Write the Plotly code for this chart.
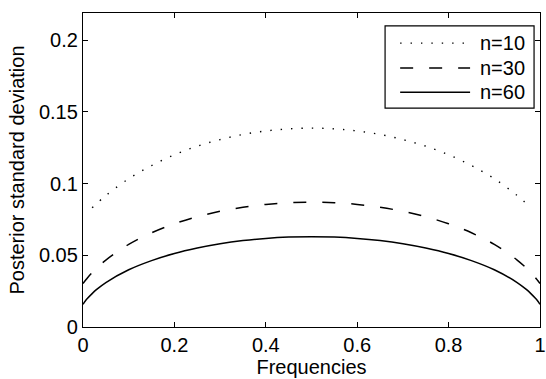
import plotly.graph_objects as go

freq_a = [0, 0.005, 0.01, 0.02, 0.03, 0.05, 0.1, 0.15, 0.2, 0.25, 0.3, 0.35, 0.4, 0.45, 0.5,
          0.55, 0.6, 0.65, 0.7, 0.75, 0.8, 0.85, 0.9, 0.95, 0.97, 0.98, 0.99, 0.995, 1]
sd_n30 = [0.0303, 0.0324, 0.0344, 0.0379, 0.0411, 0.0467, 0.0576, 0.0657, 0.0720, 0.0769,
          0.0807, 0.0835, 0.0855, 0.0867, 0.0870, 0.0867, 0.0855, 0.0835, 0.0807, 0.0769,
          0.0720, 0.0657, 0.0576, 0.0467, 0.0411, 0.0379, 0.0344, 0.0324, 0.0303]
sd_n60 = [0.0159, 0.0181, 0.0200, 0.0233, 0.0262, 0.0310, 0.0399, 0.0463, 0.0513, 0.0551,
          0.0581, 0.0603, 0.0618, 0.0627, 0.0630, 0.0627, 0.0618, 0.0603, 0.0581, 0.0551,
          0.0513, 0.0463, 0.0399, 0.0310, 0.0262, 0.0233, 0.0200, 0.0181, 0.0159]

freq_b = [0.02, 0.05, 0.1, 0.15, 0.2, 0.25, 0.3, 0.35, 0.4, 0.45, 0.5,
          0.55, 0.6, 0.65, 0.7, 0.75, 0.8, 0.85, 0.9, 0.95, 0.98]
sd_n10 = [0.0832, 0.0917, 0.1034, 0.1126, 0.1201, 0.1261, 0.1307, 0.1343, 0.1367, 0.1382,
          0.1387, 0.1382, 0.1367, 0.1343, 0.1307, 0.1261, 0.1201, 0.1126, 0.1034, 0.0917, 0.0832]

series_names = ["n=10", "n=30", "n=60"]

x_ticks = [0, 0.2, 0.4, 0.6, 0.8, 1]
x_labels = ["0", "0.2", "0.4", "0.6", "0.8", "1"]
y_ticks = [0, 0.05, 0.1, 0.15, 0.2]
y_labels = ["0", "0.05", "0.1", "0.15", "0.2"]

FONT = "Liberation Sans, Arial, Helvetica, sans-serif"
FS = 20
dashes = ["1.4px,9px", "13px,16px", "solid"]
widths = [1.4, 1.5, 1.5]

fig = go.Figure()
for fx, fy, name, dash, w in [(freq_b, sd_n10, series_names[0], dashes[0], widths[0]),
                              (freq_a, sd_n30, series_names[1], dashes[1], widths[1]),
                              (freq_a, sd_n60, series_names[2], dashes[2], widths[2])]:
    fig.add_trace(go.Scatter(x=fx, y=fy, mode="lines", name=name, line_shape="spline",
                             line=dict(color="black", width=w, dash=dash)))

axis_common = dict(showgrid=False, zeroline=False, showline=True, linecolor="black", linewidth=1.3,
                   mirror="ticks", ticks="inside", ticklen=5, tickwidth=1, tickcolor="black",
                   automargin=False, ticklabeloverflow="allow",
                   tickfont=dict(family=FONT, size=FS, color="black"))

fig.update_xaxes(range=[0, 1], tickvals=x_ticks, ticktext=x_labels,
                 title=dict(text="Frequencies", font=dict(family=FONT, size=FS, color="black"), standoff=2),
                 **axis_common)
fig.update_yaxes(range=[0, 0.219], tickvals=y_ticks, ticktext=y_labels,
                 title=dict(text="Posterior standard deviation", font=dict(family=FONT, size=FS, color="black"), standoff=8),
                 **axis_common)

# manual legend box (paper coordinates)
leg_x0, leg_x1, leg_y0, leg_y1 = 0.661, 0.987, 0.697, 0.959
row_y = [0.904, 0.825, 0.748]
fig.add_shape(type="rect", xref="paper", yref="paper", x0=leg_x0, x1=leg_x1, y0=leg_y0, y1=leg_y1,
              line=dict(color="black", width=1.2), fillcolor="white", layer="above")
for i in range(3):
    fig.add_shape(type="line", xref="paper", yref="paper", x0=0.694, x1=0.847, y0=row_y[i], y1=row_y[i],
                  line=dict(color="black", width=widths[i], dash=dashes[i]), layer="above")
    fig.add_annotation(xref="paper", yref="paper", x=0.865, y=row_y[i], text=series_names[i],
                       showarrow=False, xanchor="left", yanchor="middle",
                       font=dict(family=FONT, size=FS, color="black"))

fig.update_layout(
    width=546, height=379,
    margin=dict(l=83, r=6, t=13, b=52),
    plot_bgcolor="white", paper_bgcolor="white",
    font=dict(family=FONT, size=FS, color="black"),
    showlegend=False,
)

fig.write_html("out.html", config={"displayModeBar": False},
               post_script="document.body.style.margin='0';document.body.style.overflow='hidden';")
